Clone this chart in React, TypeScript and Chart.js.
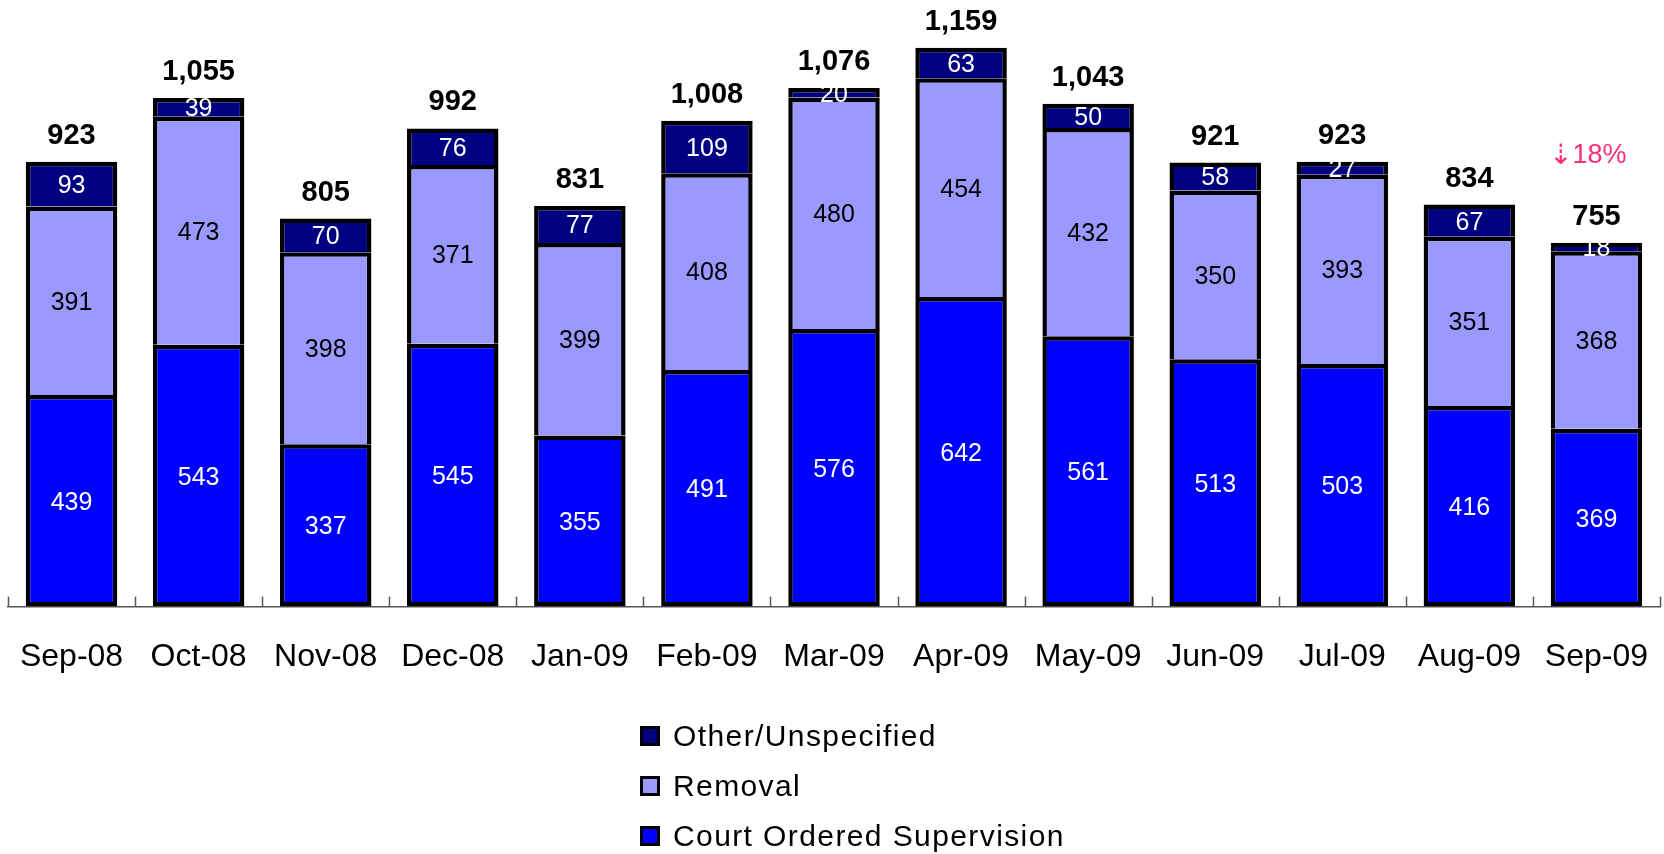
import React, { useEffect, useRef } from "react";
import { Chart, registerables } from "chart.js";

Chart.register(...registerables);

const categories = ["Sep-08", "Oct-08", "Nov-08", "Dec-08", "Jan-09", "Feb-09", "Mar-09", "Apr-09", "May-09", "Jun-09", "Jul-09", "Aug-09", "Sep-09"];
const courtOrdered = [439, 543, 337, 545, 355, 491, 576, 642, 561, 513, 503, 416, 369];
const removal = [391, 473, 398, 371, 399, 408, 480, 454, 432, 350, 393, 351, 368];
const other = [93, 39, 70, 76, 77, 109, 20, 63, 50, 58, 27, 67, 18];
const totals = [923, 1055, 805, 992, 831, 1008, 1076, 1159, 1043, 921, 923, 834, 755];
const changeNote = "⇣18%";
const changeNoteValue = 935;

const FONT = "'Liberation Sans', Arial, sans-serif";
const labelColors = ["#ffffff", "#000000", "#ffffff"];

const legendItems = [
  { label: "Other/Unspecified", color: "#000080" },
  { label: "Removal", color: "#9999ff" },
  { label: "Court Ordered Supervision", color: "#0000ff" },
];

const annotatePlugin = {
  id: "annotate",
  afterDatasetsDraw(chart: any) {
    const ctx = chart.ctx;
    const area = chart.chartArea;
    const xScale = chart.scales.x;
    const yScale = chart.scales.y;
    ctx.save();
    // ticks between categories
    ctx.strokeStyle = "#555";
    ctx.lineWidth = 1.5;
    const n = categories.length;
    const xs: number[] = [area.left];
    for (let i = 1; i < n; i++) {
      xs.push((xScale.getPixelForValue(i - 1) + xScale.getPixelForValue(i)) / 2);
    }
    xs.push(area.right);
    xs.forEach((x) => {
      ctx.beginPath();
      ctx.moveTo(Math.round(x) + 0.5, area.bottom - 10);
      ctx.lineTo(Math.round(x) + 0.5, area.bottom);
      ctx.stroke();
    });
    // segment labels
    ctx.textAlign = "center";
    ctx.textBaseline = "middle";
    ctx.font = `25px ${FONT}`;
    chart.data.datasets.forEach((ds: any, di: number) => {
      const meta = chart.getDatasetMeta(di);
      meta.data.forEach((el: any, i: number) => {
        const cy = (el.y + el.base) / 2;
        ctx.fillStyle = labelColors[di];
        ctx.fillText(String(ds.data[i]), el.x, cy + 2);
      });
    });
    // totals
    ctx.font = `bold 29px ${FONT}`;
    ctx.fillStyle = "#000";
    const topMeta = chart.getDatasetMeta(2);
    topMeta.data.forEach((el: any, i: number) => {
      ctx.fillText(totals[i].toLocaleString("en-US"), el.x, el.y - 26);
    });
    // change note
    ctx.fillStyle = "#ff2d75";
    const lastX = xScale.getPixelForValue(n - 1);
    ctx.font = `27px ${FONT}`;
    const txt = changeNote.slice(1);
    const ny = yScale.getPixelForValue(changeNoteValue);
    const startX = lastX - 24;
    ctx.textAlign = "left";
    ctx.fillText(txt, startX, ny);
    ctx.font = `28px 'DejaVu Sans'`;
    ctx.textAlign = "right";
    ctx.fillText(changeNote.slice(0, 1), startX, ny + 1);
    ctx.restore();
  },
};

export default function App() {
  const ref = useRef<HTMLCanvasElement>(null);
  useEffect(() => {
    if (!ref.current) return;
    const chart = new Chart(ref.current, {
      type: "bar",
      data: {
        labels: categories,
        datasets: [
          {
            label: "Court Ordered Supervision",
            data: courtOrdered,
            backgroundColor: "#0000ff",
            borderColor: "#000",
            borderWidth: 4.5,
            borderSkipped: false,
          },
          {
            label: "Removal",
            data: removal,
            backgroundColor: "#9999ff",
            borderColor: "#000",
            borderWidth: 4.5,
            borderSkipped: "start",
          },
          {
            label: "Other/Unspecified",
            data: other,
            backgroundColor: "#000080",
            borderColor: "#000",
            borderWidth: 4.5,
            borderSkipped: "start",
          },
        ],
      },
      options: {
        responsive: false,
        animation: false,
        layout: { padding: { left: 8, right: 4, top: 4, bottom: 147 } },
        datasets: { bar: { barPercentage: 0.72, categoryPercentage: 1 } } as any,
        plugins: { legend: { display: false }, tooltip: { enabled: false } },
        scales: {
          x: {
            stacked: true,
            grid: { display: false, drawTicks: false },
            border: { display: true, color: "#555", width: 1.5 },
            ticks: { color: "#000", font: { family: FONT, size: 32 }, padding: 31, maxRotation: 0, autoSkip: false },
            afterFit: (scale: any) => {
              scale.paddingLeft = 0;
              scale.paddingRight = 0;
            },
          },
          y: { stacked: true, display: false, min: 0, max: 1250 },
        },
      },
      plugins: [annotatePlugin],
    });
    return () => chart.destroy();
  }, []);

  return (
    <div style={{ position: "absolute", left: 0, top: 0, width: 1664, height: 854, background: "#fff" }}>
      <canvas ref={ref} width={1664} height={854} style={{ position: "absolute", left: 0, top: 0 }} />
      <div style={{ position: "absolute", left: 640, top: 711, fontFamily: FONT, fontSize: 30, color: "#000", letterSpacing: "1.4px" }}>
        {legendItems.map((it) => (
          <div key={it.label} style={{ display: "flex", alignItems: "center", height: 50 }}>
            <span style={{ display: "inline-block", width: 14, height: 14, border: "3px solid #000", background: it.color, marginRight: 13 }} />
            <span style={{ lineHeight: "50px" }}>{it.label}</span>
          </div>
        ))}
      </div>
    </div>
  );
}
